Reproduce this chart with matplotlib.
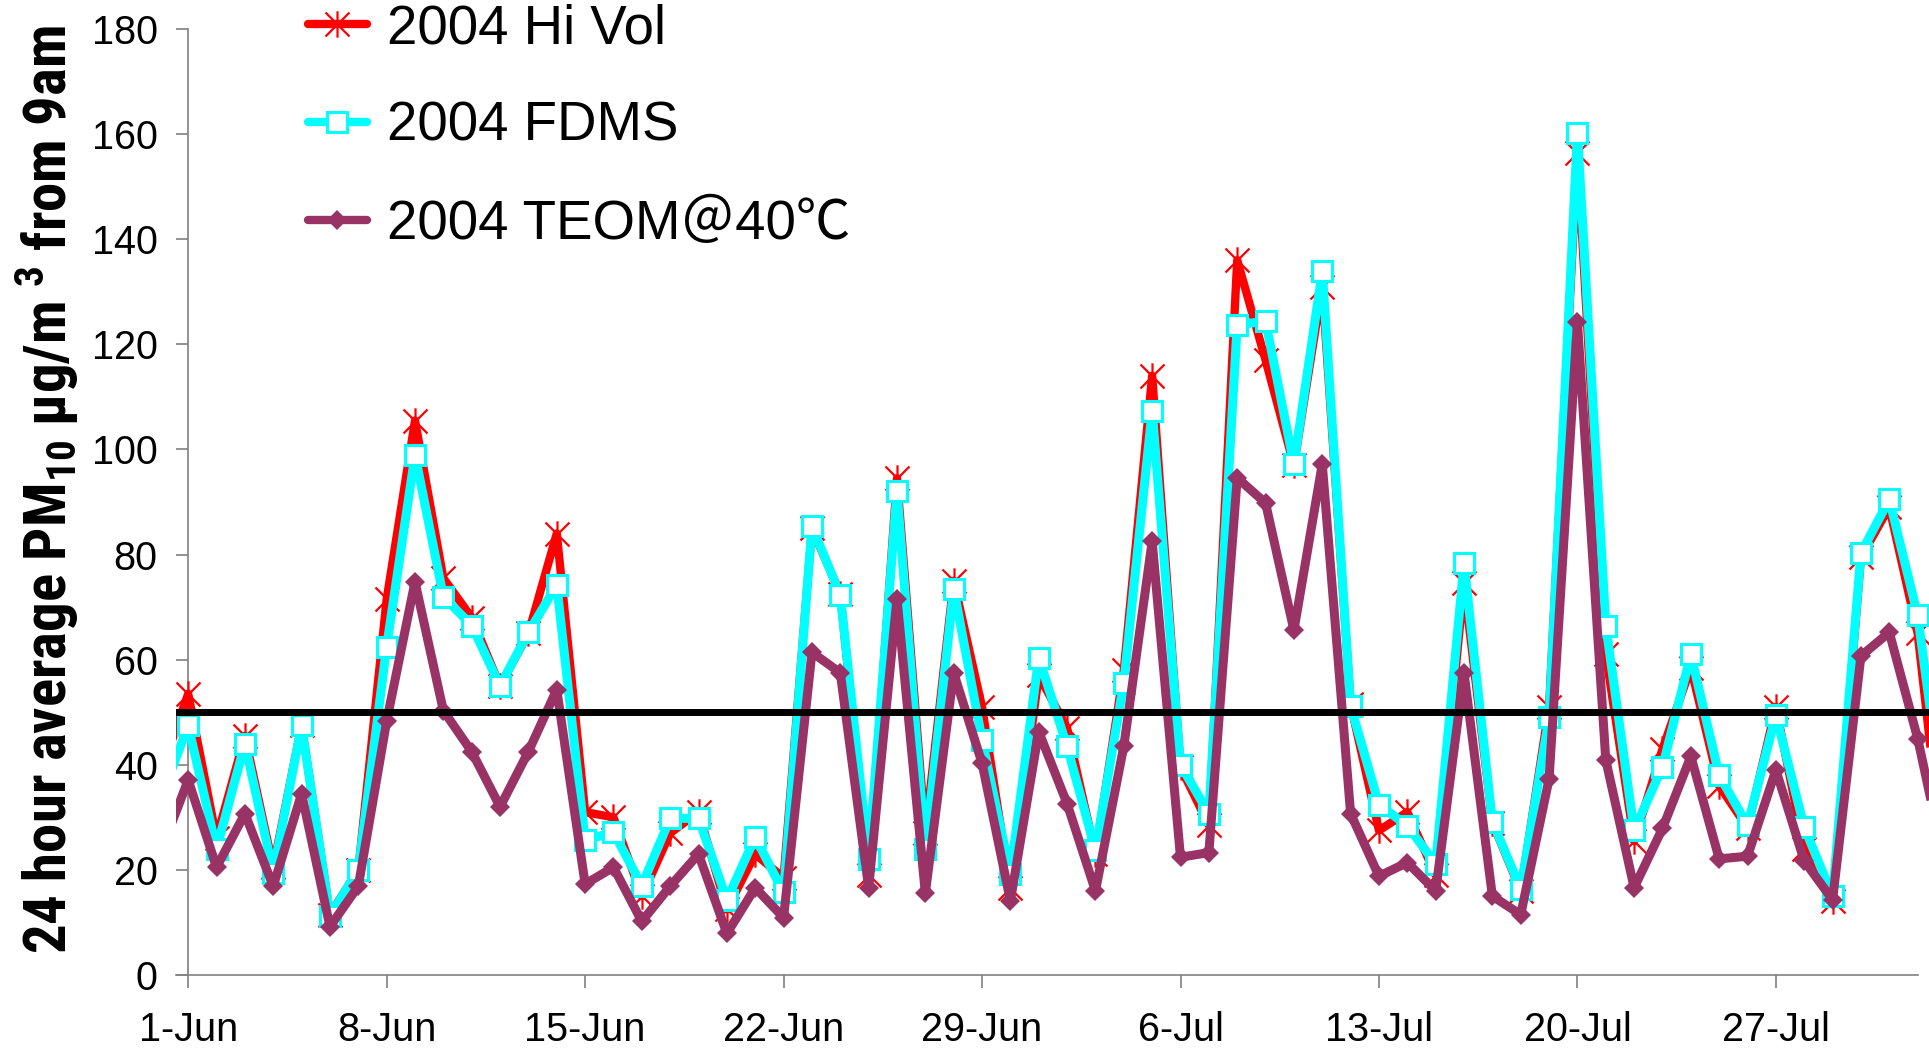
import matplotlib
matplotlib.use('Agg')
import matplotlib.pyplot as plt
from matplotlib.path import Path
from matplotlib.lines import Line2D
from matplotlib import font_manager as fm

# ---------------- data ----------------
days = list(range(-1, 63))  # day 0 = 1-Jun-2004
hivol = [38, 53.5, 26, 45.5, 20.5, 47.5, 11.5, 20, 71.5, 105.5,
         75.5, 68, 55, 65, 84, 31, 30, 15, 27, 31,
         12.5, 23, 18.5, 85, 72.5, 19, 94.5, 27, 75, 51,
         16.5, 57, 47, 23, 58, 114, 39.5, 28.5, 136, 117,
         97, 131, 51.5, 27.5, 31, 19, 74.5, 29, 16, 51,
         156.5, 61, 25.5, 43, 58.5, 36, 28, 51, 24, 14,
         79.5, 89, 65, 17]
fdms = [33, 47.5, 24, 44, 19.5, 47.5, 11.3, 20, 62.5, 99,
        72, 66.5, 55, 65.2, 74.2, 25.6, 27.2, 17, 29.8, 29.8,
        14.3, 26.2, 15.7, 85.4, 72.3, 22, 92, 23.9, 73.5, 44.8,
        19.2, 60.4, 43.5, 23.7, 55.6, 107.4, 40, 30.7, 123.7, 124.4,
        97.2, 133.9, 51.2, 32.4, 28.4, 21.1, 78.3, 29.2, 16.4, 49,
        160.2, 66.5, 27.5, 39.6, 61, 38, 28.5, 49.5, 28.1, 15,
        80.3, 90.5, 68.5, 28]
teom = [23, 37.1, 20.5, 30.7, 16.9, 34.5, 9.2, 16.9, 48.3, 74.8,
        50.3, 42.5, 32, 42.5, 54.3, 17.3, 20.5, 10.2, 16.9, 23,
        7.9, 16.6, 10.9, 61.4, 57.5, 16.6, 71.6, 15.6, 57.5, 40.3,
        14.1, 46.3, 32.6, 16, 43.5, 82.5, 22.4, 23.3, 94.6, 89.8,
        65.6, 97.2, 30.7, 18.8, 21.4, 16, 57.5, 15, 11.5, 37.3,
        124.3, 40.9, 16.6, 27.9, 41.6, 22.1, 22.6, 39, 21.7, 14.3,
        60.7, 65.2, 45, 20]
standard = 50
series_names = ['2004 Hi Vol', '2004 FDMS', '2004 TEOM＠40℃']
tick_days = [0, 7, 14, 21, 28, 35, 42, 49, 56]
tick_labels = ['1-Jun', '8-Jun', '15-Jun', '22-Jun', '29-Jun',
               '6-Jul', '13-Jul', '20-Jul', '27-Jul']
yticks = [0, 20, 40, 60, 80, 100, 120, 140, 160, 180]
ylabel = r'24 hour average PM$_\mathbf{10}$ µg/m $^\mathbf{3}$ from 9am'

# ---------------- style ----------------
plt.rcParams['font.family'] = ['Liberation Sans', 'DejaVu Sans']
avail = {f.name for f in fm.fontManager.ttflist}
ylab_font = 'Liberation Sans'
for cand in ['Liberation Sans Narrow', 'Arial Narrow', 'Roboto Condensed',
             'Open Sans Condensed', 'Liberation Sans']:
    if cand in avail:
        ylab_font = cand
        break
plt.rcParams['mathtext.fontset'] = 'custom'
plt.rcParams['mathtext.bf'] = f'{ylab_font}:bold'
plt.rcParams['mathtext.rm'] = f'{ylab_font}'

RED = '#FF0000'
CYAN = '#00FFFF'
PLUM = '#993366'
GREY = '#808080'

star = Path([(-1, -1), (1, 1), (-1, 1), (1, -1), (0, -1.1), (0, 1.1)],
            [Path.MOVETO, Path.LINETO] * 3)

W, H = 1929, 1049
fig = plt.figure(figsize=(W / 100, H / 100), dpi=100)
ax = fig.add_axes([176 / W, 1 - 975 / H, (W - 176) / W, (975 - 29) / H])

ax.plot(days, hivol, color=RED, lw=6, marker=star, ms=19, mew=1.6,
        mec=RED, zorder=2, solid_joinstyle='round')
ax.plot(days, fdms, color=CYAN, lw=6.5, marker='s', ms=14, mew=2.2,
        mec=CYAN, mfc='white', zorder=3, solid_joinstyle='round')
ax.plot(days, teom, color=PLUM, lw=6.5, marker='D', ms=10.5, mew=0,
        mfc=PLUM, zorder=4, solid_joinstyle='round')
ax.axhline(standard, color='black', lw=5, zorder=5)

ax.set_xlim(-0.43, 61.4)
ax.set_ylim(0, 180)
for s in ['top', 'right']:
    ax.spines[s].set_visible(False)
ax.spines['left'].set_position(('data', 0))
ax.spines['left'].set_bounds(0, 180)
ax.spines['bottom'].set_bounds(-0.43, 61.0)
for s in ['left', 'bottom']:
    ax.spines[s].set_color(GREY)
    ax.spines[s].set_linewidth(1.2)
    ax.spines[s].set_zorder(1)

ax.set_xticks(tick_days)
ax.set_xticklabels(tick_labels)
ax.set_yticks(yticks)
ax.tick_params(axis='both', direction='out', length=9, width=1.2,
               color=GREY, labelsize=28.5, labelcolor='black')
ax.tick_params(axis='y', pad=13)
ax.tick_params(axis='x', pad=17)

# legend
handles = [
    Line2D([], [], color=RED, lw=6, marker=star, ms=19, mew=1.6, mec=RED,
           solid_capstyle='round'),
    Line2D([], [], color=CYAN, lw=6, marker='s', ms=14, mew=2.2, mec=CYAN,
           mfc='white', solid_capstyle='round'),
    Line2D([], [], color=PLUM, lw=6, marker='D', ms=10.5, mew=0, mfc=PLUM,
           solid_capstyle='round'),
]
fig.legend(handles, series_names, loc='upper left',
           bbox_to_anchor=(308 / W, 1 - 3 / H), bbox_transform=fig.transFigure,
           frameon=False, numpoints=1, handlelength=1.08, handletextpad=0.37,
           borderpad=0, borderaxespad=0, labelspacing=0.84,
           prop=dict(family=['Liberation Sans', 'Noto Sans CJK SC', 'DejaVu Sans'],
                     size=39.3))

# y label, sized to span the same length as in the reference
t = fig.text(47 / W, 1 - 490 / H, ylabel, rotation=90, ha='center', va='center',
             fontsize=37, fontweight='bold', family=ylab_font)
fig.canvas.draw()
ext = t.get_window_extent(fig.canvas.get_renderer())
t.set_fontsize(37 * 930 / ext.height)

fig.savefig('out.png', dpi=100)
